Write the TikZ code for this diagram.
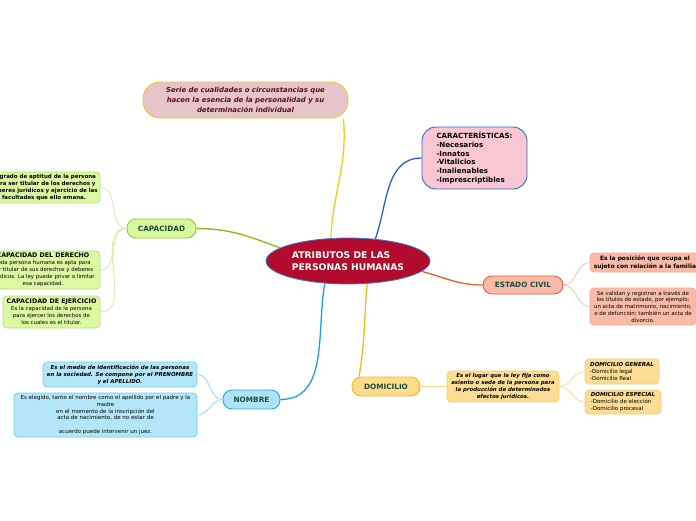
\documentclass[tikz,border=0pt]{standalone}
\usepackage{fontspec}
\setmainfont{DejaVu Sans}
\usetikzlibrary{shapes.geometric}
\newcommand\myfs[2]{\fontsize{#1}{#2}\selectfont}
\definecolor{cRed}{HTML}{B20A2C}
\definecolor{cRedB}{HTML}{3C7AD2}
\definecolor{cTopF}{HTML}{E6C4CB}
\definecolor{cTopB}{HTML}{EACB1E}
\definecolor{cTopT}{HTML}{5B0D1E}
\definecolor{cCarF}{HTML}{F9C7D4}
\definecolor{cCarB}{HTML}{2A6BDB}
\definecolor{cEstF}{HTML}{F9BBA8}
\definecolor{cEstB}{HTML}{E6643C}
\definecolor{cEstCB}{HTML}{F5AB92}
\definecolor{cDomF}{HTML}{FDDB8A}
\definecolor{cDomB}{HTML}{F2B72A}
\definecolor{cDomCF}{HTML}{FDDC93}
\definecolor{cDomCB}{HTML}{F9CD72}
\definecolor{cNomF}{HTML}{AEE4F8}
\definecolor{cNomB}{HTML}{27A6DD}
\definecolor{cNomCF}{HTML}{B3E6F9}
\definecolor{cNomCB}{HTML}{72CCEE}
\definecolor{cCapF}{HTML}{D8F99A}
\definecolor{cCapB}{HTML}{95C43A}
\definecolor{cCapCF}{HTML}{DBF9A0}
\definecolor{cCapCB}{HTML}{B8DE72}
\definecolor{cMainT}{HTML}{1E4B3C}
\definecolor{lnTop}{HTML}{EFD016}
\definecolor{lnCar}{HTML}{2266D6}
\definecolor{lnEst}{HTML}{EE5A2A}
\definecolor{lnDom}{HTML}{F5BA16}
\definecolor{lnNom}{HTML}{1EA1E0}
\definecolor{lnCap}{HTML}{8CB80A}
\definecolor{lnCapL}{HTML}{CDE89A}
\definecolor{lnNomL}{HTML}{8ED4F2}
\definecolor{lnDomL}{HTML}{FBD58B}
\definecolor{lnEstL}{HTML}{F8B9A2}
\tikzset{
  box/.style={draw, line width=0.9pt, inner sep=1pt, align=center},
  mainlbl/.style={box, rounded corners=9pt, text=cMainT, font=\bfseries\myfs{7.3}{8.5}},
  sub/.style={box, rounded corners=4pt, line width=0.7pt},
  mainline/.style={line width=1.3pt},
  subline/.style={line width=0.7pt},
}
\begin{document}
\begin{tikzpicture}[x=1pt,y=-1pt]
\useasboundingbox (0,0) rectangle (696,520);
% central node
\node[ellipse, draw=cRedB, line width=0.8pt, fill=cRed, minimum width=164pt, minimum height=46pt, inner sep=0pt,
  text=white, align=left, font=\bfseries\myfs{9.2}{12}] (center) at (348,261) {ATRIBUTOS DE LAS\\PERSONAS HUMANAS};
% top description
\node[box, fill=cTopF, draw=cTopB, rounded corners=17pt, minimum width=205pt, minimum height=36pt, text=cTopT,
  font=\bfseries\itshape\myfs{6.9}{9.6}] (top) at (245.5,100) {Serie de cualidades o circunstancias que\\hacen la esencia de la personalidad y su\\determinación individual};
% caracteristicas
\node[box, fill=cCarF, draw=cCarB, rounded corners=14pt, minimum width=105pt, minimum height=62pt, align=left,
  font=\bfseries\myfs{7.1}{8.8}] (carac) at (474.5,158) {CARACTERÍSTICAS:\\-Necesarios\\-Innatos\\-Vitalicios\\-Inalienables\\-Imprescriptibles};
% estado civil
\node[mainlbl, fill=cEstF, draw=cEstB, minimum width=80pt, minimum height=18pt] (estado) at (523,285) {ESTADO CIVIL};
\node[sub, fill=cEstF, draw=cEstCB, minimum width=110pt, minimum height=19pt, font=\bfseries\myfs{5.9}{7.6}] (ec1) at (645,262.5) {Es la posición que ocupa el\\sujeto con relación a la familia};
\node[sub, fill=cEstF, draw=cEstCB, minimum width=106pt, minimum height=37pt, font=\myfs{5.45}{6.7}] (ec2) at (643,306.5) {Se validan y registran a través de\\los títulos de estado, por ejemplo:\\un acta de matrimonio, nacimiento,\\o de defunción; también un acta de\\divorcio.};
% domicilio
\node[mainlbl, fill=cDomF, draw=cDomB, minimum width=68pt, minimum height=19pt] (domicilio) at (386,386.5) {DOMICILIO};
\node[sub, fill=cDomCF, draw=cDomCB, minimum width=112pt, minimum height=31pt, font=\bfseries\itshape\myfs{5.4}{7}] (dom1) at (503,386.5) {Es el lugar que la ley fija como\\asiento o sede de la persona para\\la producción de determinados\\efectos jurídicos.};
\node[sub, fill=cDomCF, draw=cDomCB, minimum width=74pt, minimum height=25pt, align=left, font=\myfs{5.5}{7}] (dg) at (622,371.5) {\textbf{\textit{DOMICILIO GENERAL}}\\-Domicilio legal\\-Domicilio Real};
\node[sub, fill=cDomCF, draw=cDomCB, minimum width=76pt, minimum height=24pt, align=left, font=\myfs{5.5}{7}] (de) at (623,402) {\textbf{\textit{DOMICILIO ESPECIAL}}\\-Domicilio de elección\\-Domicilio procesal};
% nombre
\node[mainlbl, fill=cNomF, draw=cNomB, minimum width=57pt, minimum height=19pt] (nombre) at (251.5,399.5) {NOMBRE};
\node[sub, fill=cNomCF, draw=cNomCB, minimum width=154pt, minimum height=25pt, font=\bfseries\itshape\myfs{5.45}{7}] (n1) at (120,374.5) {Es el medio de identificación de las personas\\en la sociedad. Se compone por el PRENOMBRE\\y el APELLIDO.};
\node[sub, fill=cNomCF, draw=cNomCB, minimum width=183pt, minimum height=44pt, font=\myfs{5.5}{6.9}] (n2) at (105.5,415) {Es elegido, tanto el nombre como el apellido por el padre y la\\madre\\en el momento de la inscripción del\\acta de nacimiento, de no estar de\\[6.9pt]acuerdo puede intervenir un juez.};
% capacidad
\node[mainlbl, fill=cCapF, draw=cCapB, minimum width=69pt, minimum height=19pt] (capacidad) at (161.5,228.5) {CAPACIDAD};
\node[sub, fill=cCapCF, draw=cCapCB, minimum width=112pt, minimum height=31pt, font=\bfseries\myfs{5.5}{7.2}] (c1) at (44,187.5) {El grado de aptitud de la persona\\para ser titular de los derechos y\\deberes jurídicos y ejercicio de las\\facultades que ello emana.};
\node[sub, fill=cCapCF, draw=cCapCB, minimum width=114pt, minimum height=38pt, font=\myfs{5.4}{6.9}] (c2) at (43,270) {{\bfseries\myfs{6.3}{7.6}CAPACIDAD DEL DERECHO}\\Toda persona humana es apta para\\ser titular de sus derechos y deberes\\jurídicos. La ley puede privar o limitar\\esa capacidad.};
\node[sub, fill=cCapCF, draw=cCapCB, minimum width=97pt, minimum height=32pt, font=\myfs{5.4}{6.9}] (c3) at (51.5,312) {{\bfseries\myfs{6.3}{7.6}CAPACIDAD DE EJERCICIO}\\Es la capacidad de la persona\\para ejercer los derechos de\\los cuales es el titular.};
% main connectors
\draw[mainline, lnTop] (center.127) to[out=87,in=-85] ([xshift=-5pt]top.south east);
\draw[mainline, lnCar] (center.39) to[out=70,in=180] (carac.west);
\draw[mainline, lnEst] (center.-8) to[out=-15,in=180] (estado.west);
\draw[mainline, lnDom] (center.-50) to[out=-95,in=80] ([xshift=-27pt]domicilio.north);
\draw[mainline, lnNom] (center.-136) to[out=-100,in=0] (nombre.east);
\draw[mainline, lnCap] (center.169) to[out=160,in=0] (capacidad.east);
% secondary connectors
\draw[subline, lnCapL] (capacidad.west) to[out=180,in=0] (c1.east);
\draw[subline, lnCapL] (capacidad.west) to[out=180,in=0] (c2.east);
\draw[subline, lnCapL] (capacidad.west) to[out=180,in=0] (c3.east);
\draw[subline, lnNomL] (nombre.west) to[out=180,in=0] (n1.east);
\draw[subline, lnNomL] (nombre.west) to[out=180,in=0] (n2.east);
\draw[subline, lnDomL] (domicilio.east) -- (dom1.west);
\draw[subline, lnDomL] (dom1.east) to[out=0,in=180] (dg.west);
\draw[subline, lnDomL] (dom1.east) to[out=0,in=180] (de.west);
\draw[subline, lnEstL] (estado.east) to[out=0,in=180] (ec1.west);
\draw[subline, lnEstL] (estado.east) to[out=0,in=180] (ec2.west);
\end{tikzpicture}
\end{document}
